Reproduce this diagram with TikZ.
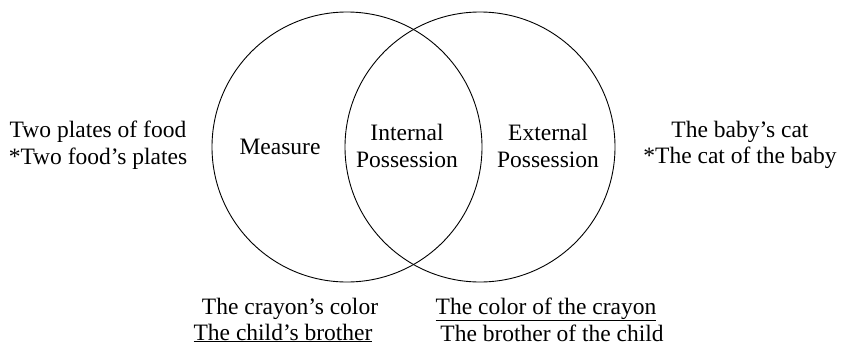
\documentclass[tikz,border=0pt]{standalone}
\usepackage{fontspec}
\setmainfont{Liberation Serif}
\begin{document}
\begin{tikzpicture}[x=1pt,y=-1pt,
  venn/.style={draw=black,line width=0.9pt,circle,minimum size=270pt,inner sep=0pt},
  lbl/.style={font=\fontsize{23.5}{26.5}\selectfont,align=center,inner sep=0pt},
  line/.style={font=\fontsize{23.5}{26.5}\selectfont,inner sep=0pt,anchor=base}]
\useasboundingbox (0,0) rectangle (842,346);
\node[venn] (L) at (347,147) {};
\node[venn] (R) at (480,147) {};
\node[lbl] (meas) at (280,147) {Measure};
\node[lbl] (int) at (407,146) {Internal\\Possession};
\node[lbl] (ext) at (548,146) {External\\Possession};
\node[lbl] (lt) at (98,145) {Two plates of food\\*Two food’s plates};
\node[lbl] (rt) at (740,145) {The baby’s cat\\*The cat of the baby};
\node[line] (lb1) at (290,314) {The crayon’s color};
\node[line] (lb2) at (283,340) {\underline{The child’s brother}};
\node[line] (rb1) at (546,314) {\underline{The color of the crayon}};
\node[line] (rb2) at (552,341) {The brother of the child};
\end{tikzpicture}
\end{document}
